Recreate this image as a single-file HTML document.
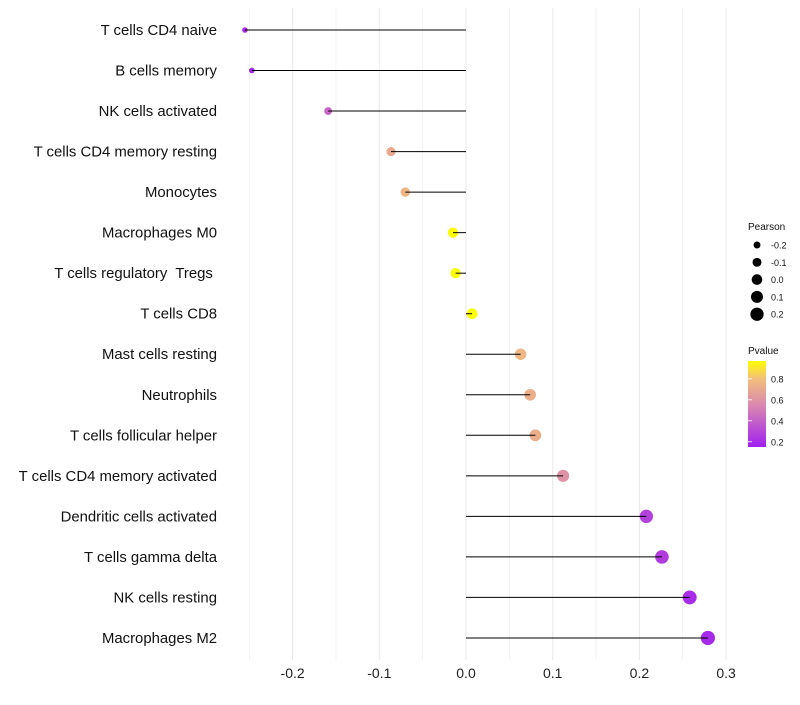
<!DOCTYPE html>
<html><head><meta charset="utf-8"><style>
body{margin:0;background:#fff;font-family:"Liberation Sans",sans-serif}
</style></head><body>
<svg id="chart" width="800" height="700" xmlns="http://www.w3.org/2000/svg">
<defs><linearGradient id="pg" x1="0" y1="1" x2="0" y2="0">
<stop offset="0" stop-color="#a020f0"/><stop offset="0.48" stop-color="#d987b0"/><stop offset="0.8" stop-color="#f3c07a"/><stop offset="1" stop-color="#ffff00"/></linearGradient></defs>
<g id="grid"></g><g id="marks"></g><g id="labels"></g><g id="legend"></g>
</svg>
<script>
const categories=["T cells CD4 naive","B cells memory","NK cells activated","T cells CD4 memory resting","Monocytes","Macrophages M0","T cells regulatory  Tregs ","T cells CD8","Mast cells resting","Neutrophils","T cells follicular helper","T cells CD4 memory activated","Dendritic cells activated","T cells gamma delta","NK cells resting","Macrophages M2"];
const pearson=[-0.255,-0.247,-0.159,-0.0865,-0.070,-0.015,-0.012,0.007,0.063,0.074,0.080,0.112,0.208,0.226,0.258,0.279];
const pvalue=[0.18,0.18,0.42,0.7,0.75,0.96,0.96,0.97,0.75,0.72,0.72,0.6,0.28,0.26,0.2,0.19];
const xTicks=[-0.2,-0.1,0.0,0.1,0.2,0.3];
const xTickLabels=["-0.2","-0.1","0.0","0.1","0.2","0.3"];
const sizeLegend=[-0.2,-0.1,0.0,0.1,0.2];
const sizeLegendLabels=["-0.2","-0.1","0.0","0.1","0.2"];
const pLegend=[0.2,0.4,0.6,0.8];

const NS="http://www.w3.org/2000/svg";
const x=v=>466+v*867;
const y=i=>30+i*40.53;
const r=v=>Math.sqrt(Math.max(28+80*v,3));
function lerp(a,b,t){return a.map((c,i)=>Math.round(c+(b[i]-c)*t));}
const stops=[[0.15,[160,32,240]],[0.55,[217,135,176]],[0.8,[243,192,122]],[0.97,[255,255,0]]];
function col(p){if(p<=stops[0][0])return `rgb(${stops[0][1]})`;for(let i=1;i<stops.length;i++){if(p<=stops[i][0]){const t=(p-stops[i-1][0])/(stops[i][0]-stops[i-1][0]);return `rgb(${lerp(stops[i-1][1],stops[i][1],t)})`;}}return "rgb(255,255,0)";}
function mk(tag,attrs,parent,text){const e=document.createElementNS(NS,tag);for(const k in attrs)e.setAttribute(k,attrs[k]);if(text!==undefined)e.textContent=text;parent.appendChild(e);return e;}
const grid=document.getElementById('grid'),marks=document.getElementById('marks'),labels=document.getElementById('labels'),legend=document.getElementById('legend');
for(let v=-0.25;v<=0.301;v+=0.05){const g=mk('line',{x1:x(v),x2:x(v),y1:8,y2:660,stroke:'#ebebeb','stroke-width':Math.abs(Math.round(v*20)%2)===1?0.6:1.1},grid);

}
xTicks.forEach((t,i)=>{const e=mk('text',{x:x(t),y:678,'text-anchor':'middle','font-size':14,fill:'#222'},labels,xTickLabels[i]);

});
categories.forEach((c,i)=>{
const l=mk('text',{x:217,y:y(i)+5,'text-anchor':'end','font-size':14.9,fill:'#111',style:'white-space:pre'},labels,c);


const p=mk('circle',{cx:x(pearson[i]),cy:y(i),r:r(pearson[i]),fill:col(pvalue[i])},marks);


const s=mk('line',{x1:x(0),x2:x(pearson[i]),y1:y(i),y2:y(i),stroke:'#000','stroke-width':1},marks);


});
const lt=mk('text',{x:748,y:230,'font-size':10,fill:'#111'},legend,'Pearson');


sizeLegend.forEach((v,i)=>{const cy=245+i*17.3;
const c=mk('circle',{cx:757,cy:cy,r:r(v),fill:'#000'},legend);


const t=mk('text',{x:771,y:cy+3.5,'font-size':9,fill:'#111'},legend,sizeLegendLabels[i]);

});
const pt=mk('text',{x:748,y:354,'font-size':10,fill:'#111'},legend,'Pvalue');


const bar=mk('rect',{x:748,y:361,width:18,height:86,fill:'url(#pg)'},legend);


const py=p=>447-(p-0.15)/0.82*86;
pLegend.forEach(p=>{const t=mk('text',{x:771,y:py(p)+3.5,'font-size':9,fill:'#111'},legend,p.toFixed(1));


const tk=mk('line',{x1:748,x2:752,y1:py(p),y2:py(p),stroke:'#fff','stroke-width':0.8},legend);

});
</script>
</body></html>
